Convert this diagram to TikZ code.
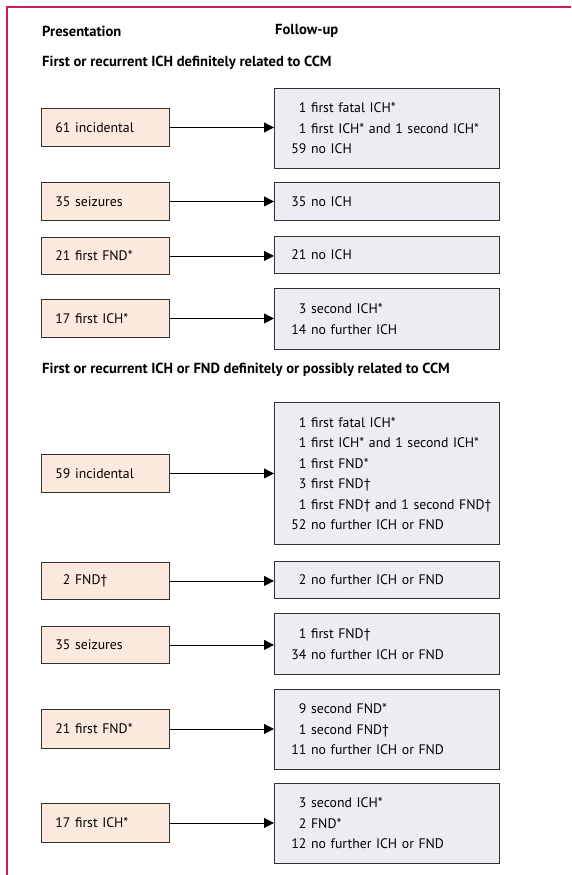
\documentclass[tikz,border=0pt]{standalone}
\usepackage{fontspec}
\setmainfont{PT Sans}
\usetikzlibrary{arrows.meta}
\definecolor{frame}{RGB}{200,30,80}
\definecolor{lfill}{RGB}{253,233,222}
\definecolor{rfill}{RGB}{238,236,243}
\definecolor{boxline}{RGB}{50,50,50}
\newcommand\nr[1]{\hphantom{00}\llap{#1}}
\newcommand\rn[1]{\hspace*{11pt}\nr{#1}}
\newcommand\bodyfont{\fontsize{13.8}{20.5}\selectfont\spaceskip=3pt plus 1pt minus 0.5pt\relax}
\tikzset{
  x=1pt,y=1pt,
  body/.style={font=\bodyfont},
  head/.style={font=\fontsize{14.6}{16}\selectfont\bfseries, anchor=west, inner sep=0pt},
  lbox/.style={body, draw=boxline, fill=lfill, line width=0.9pt, anchor=north west, inner xsep=14pt, inner ysep=0pt, text width=100pt, align=left},
  rbox/.style={body, draw=boxline, fill=rfill, line width=0.9pt, anchor=north west, inner xsep=6pt, inner ysep=0pt, text width=213pt, align=left},
  arr/.style={draw=black, line width=0.9pt, -{Triangle[length=10pt,width=10pt]}}
}
\begin{document}
\begin{tikzpicture}
\useasboundingbox (0,0) rectangle (571,-875);
% frame
\draw[frame, line width=1.4pt] (7,-875) -- (7,-7) -- (571,-7);
% headings
\node[head] (hp) at (42,-31) {Presentation};
\node[head] (hf) at (275,-31) {Follow-up};
\node[head] (h1) at (42,-63) {First or recurrent ICH definitely related to CCM};
\node[head] (h2) at (42,-370) {First or recurrent ICH or FND definitely or possibly related to CCM};
% section 1
\node[lbox, minimum height=38pt] (a1) at (41,-108) {\nr{61} incidental};
\node[rbox, minimum height=80pt] (r1) at (274,-88) {\rn{1} first fatal ICH*\\\rn{1} first ICH* and 1 second ICH*\\\rn{59} no ICH};
\node[lbox, minimum height=38pt] (a2) at (41,-182) {\nr{35} seizures};
\node[rbox, minimum height=38pt] (r2) at (274,-182) {\rn{35} no ICH};
\node[lbox, minimum height=37pt] (a3) at (41,-237) {\nr{21} first FND*};
\node[rbox, minimum height=37pt] (r3) at (274,-236) {\rn{21} no ICH};
\node[lbox, minimum height=38pt] (a4) at (41,-299) {\nr{17} first ICH*};
\node[rbox, minimum height=61pt] (r4) at (274,-288) {\rn{3} second ICH*\\\rn{14} no further ICH};
% section 2
\node[lbox, minimum height=38pt] (b1) at (41,-454) {\nr{59} incidental};
\node[rbox, minimum height=142pt] (r5) at (274,-402) {\rn{1} first fatal ICH*\\\rn{1} first ICH* and 1 second ICH*\\\rn{1} first FND*\\\rn{3} first FND†\\\rn{1} first FND† and 1 second FND†\\\rn{52} no further ICH or FND};
\node[lbox, minimum height=37pt] (b2) at (41,-562) {\nr{2} FND†};
\node[rbox, minimum height=37pt] (r6) at (274,-561) {\rn{2} no further ICH or FND};
\node[lbox, minimum height=37pt] (b3) at (41,-626) {\nr{35} seizures};
\node[rbox, minimum height=61pt] (r7) at (274,-613) {\rn{1} first FND†\\\rn{34} no further ICH or FND};
\node[lbox, minimum height=39pt] (b4) at (41,-709) {\nr{21} first FND*};
\node[rbox, minimum height=80pt] (r8) at (274,-689) {\rn{9} second FND*\\\rn{1} second FND†\\\rn{11} no further ICH or FND};
\node[lbox, minimum height=39pt] (b5) at (41,-803) {\nr{17} first ICH*};
\node[rbox, minimum height=80pt] (r9) at (274,-783) {\rn{3} second ICH*\\\rn{2} FND*\\\rn{12} no further ICH or FND};
% arrows
\foreach \l/\r in {a1/r1,a2/r2,a3/r3,a4/r4,b1/r5,b2/r6,b3/r7,b4/r8,b5/r9}
  \draw[arr] (\l.east) -- (\l.east -| \r.west);
\end{tikzpicture}
\end{document}
